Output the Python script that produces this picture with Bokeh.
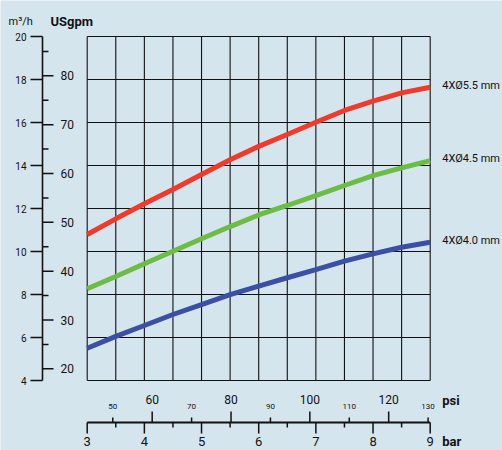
import numpy as np
from bokeh.plotting import figure
from bokeh.models import Range1d
from bokeh.core.properties import value
from bokeh.embed import file_html
from bokeh.resources import INLINE

# ---------------- data ----------------
bar = [3.0, 3.5, 4.0, 4.5, 5.0, 5.5, 6.0, 6.5, 7.0, 7.5, 8.0, 8.5, 9.0]
flow_55 = [10.79, 11.52, 12.22, 12.88, 13.58, 14.27, 14.89, 15.44, 16.01, 16.56, 16.99, 17.38, 17.64]
flow_45 = [8.27, 8.84, 9.43, 10.01, 10.59, 11.16, 11.70, 12.14, 12.60, 13.07, 13.53, 13.89, 14.23]
flow_40 = [5.50, 6.05, 6.56, 7.07, 7.53, 7.99, 8.39, 8.78, 9.16, 9.55, 9.89, 10.20, 10.43]
series_labels = ["4XØ5.5 mm", "4XØ4.5 mm", "4XØ4.0 mm"]

m3h_ticks = [4, 6, 8, 10, 12, 14, 16, 18, 20]
usgpm_major = [20, 30, 40, 50, 60, 70, 80]
usgpm_minor = [25, 35, 45, 55, 65, 75, 85]
bar_ticks = [3, 4, 5, 6, 7, 8, 9]
bar_minor = [3.5, 4.5, 5.5, 6.5, 7.5, 8.5]
grid_bar = [3, 3.5, 4, 4.5, 5, 5.5, 6, 6.5, 7, 7.5, 8, 8.5, 9]
psi_major = [60, 80, 100, 120]
psi_minor = [50, 70, 90, 110, 130]

PSI_PER_BAR = 14.5038
USGPM_PER_M3H = 4.40287

# ---------------- layout (frame covers the whole canvas) ----------------
W, H = 502, 450
px_bar = (429.7 - 86.7) / 6.0          # pixels per bar
px_m3 = (380.0 - 36.0) / 16.0          # pixels per m3/h
x0 = 3 - 86.7 / px_bar
x1 = x0 + W / px_bar
y1 = 20 + 36.0 / px_m3
y0 = y1 - H / px_m3
xa = x0 + 42.0 / px_bar                # left axis line position
ya = y1 - 422.0 / px_m3                # psi / bar axis line position

BG = "#d5e5ee"
FONT = value("Roboto")
INK = "#111111"

p = figure(width=W, height=H, output_backend="svg", toolbar_location=None,
           x_axis_type=None, y_axis_type=None,
           x_range=Range1d(x0, x1), y_range=Range1d(y0, y1),
           min_border=0, min_border_left=0, min_border_right=0,
           min_border_top=0, min_border_bottom=0,
           background_fill_color=BG, border_fill_color=BG, outline_line_color=None)
p.extra_x_ranges = {"psi": Range1d(x0 * PSI_PER_BAR, x1 * PSI_PER_BAR)}
p.extra_y_ranges = {"usgpm": Range1d(y0 * USGPM_PER_M3H, y1 * USGPM_PER_M3H)}

# grid
p.segment(x0=grid_bar, y0=[4] * len(grid_bar), x1=grid_bar, y1=[20] * len(grid_bar),
          line_color=INK, line_width=1.1)
p.segment(x0=[3] * len(m3h_ticks), y0=m3h_ticks, x1=[9] * len(m3h_ticks), y1=m3h_ticks,
          line_color=INK, line_width=1.1)

# curves
for ys, col in [(flow_55, "#ee3b2b"), (flow_45, "#6cbd45"), (flow_40, "#3b50a3")]:
    p.line(bar, ys, line_color=col, line_width=5)

# series labels
p.text(x=[9, 9, 9], y=[flow_55[-1], flow_45[-1], flow_40[-1]], text=series_labels,
       x_offset=12, y_offset=-2, text_align="left", text_baseline="middle",
       text_font=FONT, text_font_size="11px", text_color=INK)

# ---- left axis: m3/h (ticks out, left) and USgpm (ticks in, right) ----
p.segment(x0=[xa], y0=[4], x1=[xa], y1=[20], line_color=INK, line_width=1.6)
p.ray(x=[xa] * len(m3h_ticks), y=m3h_ticks, length=12, length_units="screen", angle=np.pi,
      line_color=INK, line_width=1.5)
p.text(x=[xa] * len(m3h_ticks), y=m3h_ticks, text=[str(v) for v in m3h_ticks],
       x_offset=-16, text_align="right", text_baseline="middle",
       text_font=FONT, text_font_size="10px", text_color=INK)

p.ray(x=[xa] * len(usgpm_major), y=usgpm_major, length=11, length_units="screen", angle=0,
      line_color=INK, line_width=1.5, y_range_name="usgpm")
p.ray(x=[xa] * len(usgpm_minor), y=usgpm_minor, length=6, length_units="screen", angle=0,
      line_color=INK, line_width=1.5, y_range_name="usgpm")
p.text(x=[xa] * len(usgpm_major), y=usgpm_major, text=[str(v) for v in usgpm_major],
       x_offset=18, text_align="left", text_baseline="middle", y_range_name="usgpm",
       text_font=FONT, text_font_size="12px", text_color=INK)

p.text(x=[xa], y=[20], text=["m³/h"], x_offset=-34, y_offset=-15, text_align="left",
       text_baseline="middle", text_font=FONT, text_font_size="11px", text_color=INK)
p.text(x=[xa], y=[20], text=["USgpm"], x_offset=8, y_offset=-15, text_align="left",
       text_baseline="middle", text_font=FONT, text_font_size="13px",
       text_font_style="bold", text_color=INK)

# ---- bottom axis: bar (ticks down) and psi (ticks up) ----
p.segment(x0=[3], y0=[ya], x1=[9], y1=[ya], line_color=INK, line_width=2)
p.ray(x=bar_ticks, y=[ya] * len(bar_ticks), length=11, length_units="screen",
      angle=-np.pi / 2, line_color=INK, line_width=1.5)
p.ray(x=bar_minor, y=[ya] * len(bar_minor), length=5, length_units="screen",
      angle=-np.pi / 2, line_color=INK, line_width=1.5)
p.text(x=bar_ticks, y=[ya] * len(bar_ticks), text=[str(v) for v in bar_ticks],
       y_offset=19, text_align="center", text_baseline="middle",
       text_font=FONT, text_font_size="13px", text_color=INK)

p.ray(x=psi_major, y=[ya] * len(psi_major), length=11, length_units="screen",
      angle=np.pi / 2, line_color=INK, line_width=1.5, x_range_name="psi")
p.ray(x=psi_minor, y=[ya] * len(psi_minor), length=5, length_units="screen",
      angle=np.pi / 2, line_color=INK, line_width=1.5, x_range_name="psi")
p.text(x=psi_major, y=[ya] * len(psi_major), text=[str(v) for v in psi_major],
       y_offset=-23, text_align="center", text_baseline="middle", x_range_name="psi",
       text_font=FONT, text_font_size="12px", text_color=INK)
p.text(x=psi_minor, y=[ya] * len(psi_minor), text=[str(v) for v in psi_minor],
       y_offset=-16, text_align="center", text_baseline="middle", x_range_name="psi",
       text_font=FONT, text_font_size="8px", text_color=INK)

p.text(x=[9], y=[ya], text=["psi"], x_offset=12, y_offset=-22, text_align="left",
       text_baseline="alphabetic", text_font=FONT, text_font_size="13px",
       text_font_style="bold", text_color=INK)
p.text(x=[9], y=[ya], text=["bar"], x_offset=12, y_offset=19, text_align="left",
       text_baseline="middle", text_font=FONT, text_font_size="13px",
       text_font_style="bold", text_color=INK)

open("out.html", "w").write(file_html(p, INLINE))
